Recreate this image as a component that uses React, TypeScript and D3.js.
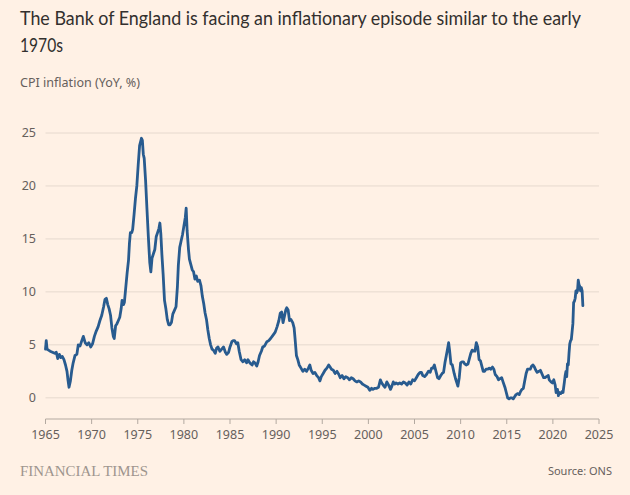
import React from "react";
import * as d3 from "d3";

const dates = [
  1965.0, 1965.08, 1965.17, 1965.33, 1965.5, 1965.75, 1966.0, 1966.17, 1966.33, 1966.5, 1966.67, 1966.83,
  1967.0, 1967.17, 1967.33, 1967.45, 1967.55, 1967.7, 1967.85, 1968.0, 1968.2, 1968.4, 1968.55, 1968.75, 1968.9,
  1969.1, 1969.3, 1969.5, 1969.7, 1969.9, 1970.1, 1970.3, 1970.5, 1970.7, 1970.9, 1971.1, 1971.3, 1971.45, 1971.6,
  1971.75, 1971.9, 1972.05, 1972.2, 1972.35, 1972.45, 1972.6, 1972.75, 1972.9, 1973.05, 1973.2, 1973.3, 1973.45,
  1973.55, 1973.7, 1973.85, 1974.0, 1974.1, 1974.2, 1974.35, 1974.45, 1974.6, 1974.75, 1974.9, 1975.05, 1975.2,
  1975.4, 1975.5, 1975.6, 1975.7, 1975.85, 1976.0, 1976.15, 1976.3, 1976.42, 1976.55, 1976.7, 1976.85, 1977.0,
  1977.15, 1977.3, 1977.4, 1977.5, 1977.62, 1977.75, 1977.9, 1978.05, 1978.2, 1978.35, 1978.5, 1978.65, 1978.8,
  1979.0, 1979.15, 1979.3, 1979.4, 1979.55, 1979.7, 1979.85, 1980.0, 1980.15, 1980.25, 1980.35, 1980.5, 1980.6,
  1980.75, 1980.9, 1981.05, 1981.2, 1981.35, 1981.5, 1981.7, 1981.85, 1982.0, 1982.15, 1982.3, 1982.45, 1982.6,
  1982.75, 1982.9, 1983.05, 1983.2, 1983.4, 1983.55, 1983.7, 1983.9, 1984.1, 1984.3, 1984.5, 1984.65, 1984.85,
  1985.0, 1985.2, 1985.35, 1985.5, 1985.7, 1985.85, 1986.0, 1986.2, 1986.4, 1986.6, 1986.8, 1986.95, 1987.15,
  1987.4, 1987.55, 1987.7, 1987.9, 1988.05, 1988.2, 1988.4, 1988.55, 1988.75, 1989.0, 1989.2, 1989.4, 1989.65,
  1989.9, 1990.1, 1990.3, 1990.45, 1990.6, 1990.75, 1990.85, 1991.05, 1991.15, 1991.3, 1991.45, 1991.6, 1991.8,
  1991.95, 1992.05, 1992.2, 1992.35, 1992.5, 1992.7, 1992.9, 1993.1, 1993.3, 1993.5, 1993.65, 1993.8, 1994.0,
  1994.2, 1994.4, 1994.6, 1994.75, 1994.9, 1995.1, 1995.3, 1995.5, 1995.7, 1995.85, 1996.0, 1996.2, 1996.4,
  1996.6, 1996.8, 1996.95, 1997.15, 1997.35, 1997.55, 1997.75, 1997.95, 1998.15, 1998.35, 1998.55, 1998.75,
  1998.95, 1999.15, 1999.35, 1999.55, 1999.75, 1999.95, 2000.15, 2000.35, 2000.5, 2000.7, 2000.9, 2001.1, 2001.3,
  2001.45, 2001.6, 2001.8, 2002.0, 2002.2, 2002.4, 2002.55, 2002.7, 2002.85, 2003.0, 2003.2, 2003.4, 2003.6,
  2003.8, 2004.0, 2004.2, 2004.4, 2004.6, 2004.8, 2005.0, 2005.2, 2005.4, 2005.6, 2005.75, 2005.9, 2006.1, 2006.3,
  2006.5, 2006.7, 2006.85, 2007.0, 2007.15, 2007.3, 2007.5, 2007.65, 2007.85, 2008.0, 2008.15, 2008.3, 2008.45,
  2008.6, 2008.7, 2008.8, 2008.95, 2009.1, 2009.3, 2009.45, 2009.6, 2009.7, 2009.85, 2010.0, 2010.15, 2010.3,
  2010.45, 2010.6, 2010.8, 2010.95, 2011.1, 2011.25, 2011.4, 2011.55, 2011.7, 2011.85, 2012.0, 2012.15, 2012.3,
  2012.45, 2012.6, 2012.75, 2012.95, 2013.1, 2013.25, 2013.45, 2013.6, 2013.75, 2013.95, 2014.1, 2014.25, 2014.45,
  2014.6, 2014.8, 2014.95, 2015.1, 2015.25, 2015.4, 2015.55, 2015.7, 2015.85, 2016.0, 2016.2, 2016.35, 2016.5,
  2016.65, 2016.8, 2016.95, 2017.1, 2017.25, 2017.4, 2017.55, 2017.7, 2017.85, 2018.0, 2018.15, 2018.3, 2018.5,
  2018.65, 2018.8, 2019.0, 2019.15, 2019.3, 2019.5, 2019.6, 2019.8, 2019.95, 2020.1, 2020.25, 2020.35, 2020.5,
  2020.6, 2020.7, 2020.85, 2021.0, 2021.1, 2021.25, 2021.33, 2021.42, 2021.5, 2021.58, 2021.67, 2021.75, 2021.83,
  2021.92, 2022.0, 2022.08, 2022.17, 2022.25, 2022.33, 2022.42, 2022.5, 2022.58, 2022.67, 2022.75, 2022.83,
  2022.92, 2023.0, 2023.08, 2023.17, 2023.25,
];

const cpi = [
  4.6, 5.4, 4.6, 4.5, 4.4, 4.3, 4.2, 4.3, 3.7, 4.1, 3.8, 3.9,
  3.6, 3.1, 2.5, 1.6, 1.0, 1.6, 2.6, 3.3, 4.0, 4.1, 5.0, 4.9, 5.3,
  5.8, 5.2, 5.0, 5.2, 4.8, 5.1, 5.8, 6.3, 6.7, 7.3, 7.8, 8.6, 9.3, 9.4,
  8.8, 8.4, 7.8, 6.6, 5.8, 5.6, 6.8, 7.0, 7.3, 7.6, 8.4, 9.2, 8.8,
  9.0, 10.4, 11.8, 13.0, 14.6, 15.6, 15.6, 15.9, 17.3, 18.8, 20.0, 22.0, 23.8,
  24.5, 24.3, 23.0, 22.6, 20.5, 17.8, 15.2, 12.8, 11.9, 13.2, 13.6, 14.0, 15.2,
  15.6, 16.0, 16.5, 15.5, 13.5, 11.7, 9.2, 8.4, 7.4, 6.9, 6.9, 7.1, 7.9,
  8.3, 8.6, 10.5, 12.5, 14.2, 14.8, 15.4, 16.2, 17.0, 17.9, 15.8, 14.0, 13.1,
  12.6, 12.1, 11.9, 11.2, 11.5, 11.0, 11.1, 10.6, 9.6, 8.9, 8.0, 7.4, 6.4,
  5.6, 5.0, 4.6, 4.5, 4.2, 4.7, 4.8, 4.4, 4.6, 4.8, 4.3, 4.1, 4.3,
  4.8, 5.3, 5.4, 5.4, 5.1, 5.2, 4.4, 3.6, 3.4, 3.6, 3.3, 3.6, 3.3,
  3.1, 3.4, 3.3, 3.0, 3.4, 4.0, 4.4, 4.8, 4.9, 5.3, 5.4, 5.6, 5.9,
  6.2, 6.7, 7.3, 8.0, 8.1, 7.1, 7.5, 8.3, 8.5, 8.3, 7.3, 7.4, 7.1,
  6.6, 5.6, 4.0, 3.6, 3.1, 2.8, 2.5, 2.7, 2.5, 2.8, 3.1, 2.6, 2.3,
  2.4, 2.1, 1.9, 1.6, 2.0, 2.3, 2.6, 2.8, 3.1, 2.9, 2.7, 2.6, 2.3,
  2.5, 2.2, 1.9, 2.1, 1.8, 2.0, 1.9, 1.7, 1.9, 1.8, 1.6, 1.5,
  1.6, 1.5, 1.3, 1.2, 1.1, 1.0, 0.7, 0.9, 0.8, 0.9, 0.9, 1.0, 1.7,
  1.4, 1.2, 1.0, 1.5, 1.2, 0.8, 1.1, 1.5, 1.3, 1.4, 1.3, 1.4, 1.3,
  1.5, 1.4, 1.2, 1.5, 1.3, 1.7, 1.6, 1.9, 2.2, 2.4, 2.4, 2.1, 2.0, 2.2,
  2.5, 2.4, 2.8, 2.8, 3.1, 2.6, 1.9, 1.8, 2.1, 2.3, 2.4, 3.3, 4.0,
  4.7, 5.2, 4.5, 3.2, 3.1, 2.3, 1.8, 1.4, 1.1, 1.9, 3.3, 3.4, 3.4,
  3.2, 3.1, 3.2, 3.7, 4.2, 4.5, 4.4, 4.4, 5.2, 4.8, 3.6, 3.5, 3.0,
  2.5, 2.5, 2.7, 2.7, 2.8, 2.7, 2.9, 2.7, 2.2, 2.0, 1.7, 1.8, 1.9,
  1.5, 1.0, 0.5, 0.0, -0.1, 0.0, 0.0, -0.1, 0.1, 0.3, 0.4, 0.3, 0.6,
  0.8, 0.9, 1.6, 2.3, 2.7, 2.7, 2.7, 3.0, 3.1, 2.9, 2.6, 2.4, 2.5,
  2.6, 2.3, 1.9, 1.9, 2.0, 2.1, 1.7, 1.5, 1.4, 1.7, 1.2, 0.5, 0.8,
  0.2, 0.5, 0.4, 0.6, 0.5, 1.5, 2.1, 2.5, 2.0, 3.2, 3.1, 4.2, 5.1,
  5.4, 5.5, 6.2, 7.0, 9.0, 9.1, 9.4, 10.1, 9.9, 10.1, 11.1, 10.7,
  10.5, 10.1, 10.4, 10.1, 8.7,
];

const yTicks = [0, 5, 10, 15, 20, 25];
const xTicks = [1965, 1970, 1975, 1980, 1985, 1990, 1995, 2000, 2005, 2010, 2015, 2020, 2025];

const titleLines = ["The Bank of England is facing an inflationary episode similar to the early", "1970s"];
const subtitle = "CPI inflation (YoY, %)";
const sourceText = "Source: ONS";
const brandText = "FINANCIAL TIMES";

const W = 630;
const H = 495;
const SANS = "'Noto Sans', 'Open Sans', sans-serif";
const TITLE_FONT = "Lato, 'Noto Sans', sans-serif";

export default function App() {
  const x = d3.scaleLinear().domain([1965, 2025]).range([45.5, 599]);
  const y = d3.scaleLinear().domain([-2, 25]).range([419, 133]);
  const points = dates.map((d, i) => [d, cpi[i]] as [number, number]);
  const line = d3
    .line<[number, number]>()
    .x((d) => x(d[0]))
    .y((d) => y(d[1]));

  return (
    <svg
      width={W}
      height={H}
      style={{ position: "absolute", left: 0, top: 0, display: "block" }}
    >
      <rect x={0} y={0} width={W} height={H} fill="#FFF1E5" />
      <text x={20} y={25} fontFamily={TITLE_FONT} fontSize={18.5} fill="#33302E" textLength={561} lengthAdjust="spacingAndGlyphs">
        {titleLines[0]}
      </text>
      <text x={20} y={52} fontFamily={TITLE_FONT} fontSize={18.5} fill="#33302E" textLength={43} lengthAdjust="spacingAndGlyphs">
        {titleLines[1]}
      </text>
      <text x={20} y={87} fontFamily={SANS} fontSize={13} fill="#66605C" textLength={120} lengthAdjust="spacingAndGlyphs">
        {subtitle}
      </text>

      {yTicks.map((t) => (
        <g key={t}>
          <line x1={x(1965)} x2={x(2025)} y1={y(t)} y2={y(t)} stroke="#E6D9CE" strokeWidth={1} />
          <text x={36} y={y(t)} dy="0.35em" textAnchor="end" fontFamily={SANS} fontSize={12.5} fill="#66605C">
            {t}
          </text>
        </g>
      ))}

      <line x1={x(1965)} x2={x(2025)} y1={y(-2)} y2={y(-2)} stroke="#B3A9A0" strokeWidth={1} />
      {xTicks.map((t) => (
        <g key={t}>
          <line x1={x(t)} x2={x(t)} y1={y(-2)} y2={y(-2) + 5} stroke="#B3A9A0" strokeWidth={1} />
          <text x={x(t)} y={y(-2) + 20} textAnchor="middle" fontFamily={SANS} fontSize={12.5} fill="#66605C">
            {t}
          </text>
        </g>
      ))}

      <path
        d={line(points) || ""}
        fill="none"
        stroke="#285B8F"
        strokeWidth={2.8}
        strokeLinejoin="round"
        strokeLinecap="round"
      />

      <text x={20} y={476} fontFamily="'Liberation Serif', 'DejaVu Serif', serif" fontSize={14} fill="#9E958E" textLength={128} lengthAdjust="spacingAndGlyphs">
        {brandText}
      </text>
      <text x={612} y={475} textAnchor="end" fontFamily={SANS} fontSize={11} fill="#66605C">
        {sourceText}
      </text>
    </svg>
  );
}
